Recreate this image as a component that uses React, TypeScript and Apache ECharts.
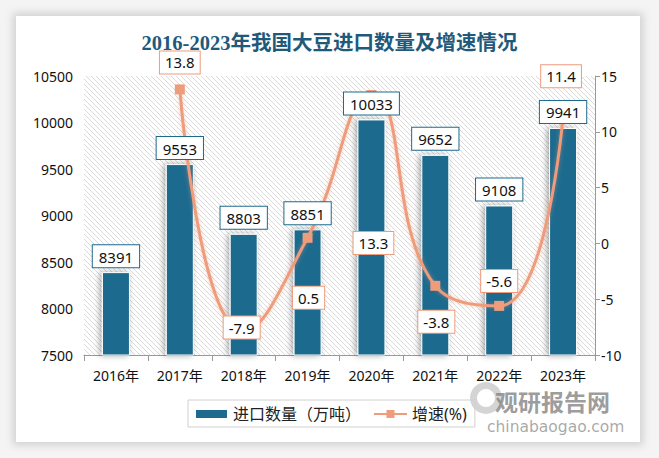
import React, { useEffect, useRef } from "react";
import * as echarts from "echarts";

const categories = ["2016年", "2017年", "2018年", "2019年", "2020年", "2021年", "2022年", "2023年"];
const importVolume = [8391, 9553, 8803, 8851, 10033, 9652, 9108, 9941];
const growthRate: (number | null)[] = [null, 13.8, -7.9, 0.5, 13.3, -3.8, -5.6, 11.4];
const leftTicks = { min: 7500, max: 10500, interval: 500 };
const rightTicks = { min: -10, max: 15, interval: 5 };

// label layout for the growth series (offset of label centre from point)
const growthLabelOffsets: [number, number][] = [
  [0, 0], [0, -27], [-2, -4], [1, 60], [2, 148], [1, 36], [0, -25], [-2, -40],
];

function makeHatch(): HTMLCanvasElement {
  const c = document.createElement("canvas");
  c.width = 5;
  c.height = 5;
  const ctx = c.getContext("2d")!;
  ctx.fillStyle = "#ffffff";
  ctx.fillRect(0, 0, 5, 5);
  ctx.strokeStyle = "#dadada";
  ctx.lineWidth = 1;
  ctx.beginPath();
  ctx.moveTo(0, 0);
  ctx.lineTo(5, 5);
  ctx.moveTo(-2.5, 2.5);
  ctx.lineTo(2.5, 7.5);
  ctx.moveTo(2.5, -2.5);
  ctx.lineTo(7.5, 2.5);
  ctx.stroke();
  return c;
}

export default function App() {
  const ref = useRef<HTMLDivElement>(null);
  useEffect(() => {
    if (!ref.current) return;
    const chart = echarts.init(ref.current, undefined, { renderer: "svg" });
    const blue = "#1d6a8e";
    const orange = "#ee9c7c";
    const axisFont = "'Noto Sans', 'Noto Sans CJK SC', sans-serif";
    const lineData = growthRate.map((v, i) => ({
      value: v,
      label: {
        show: v !== null,
        position: "inside",
        offset: growthLabelOffsets[i],
      },
    }));
    chart.setOption({
      animation: false,
      backgroundColor: "transparent",
      title: {
        text: "2016-2023年我国大豆进口数量及增速情况",
        left: "center",
        top: 28,
        textStyle: {
          color: "#1f5a7a",
          fontSize: 20.5,
          fontWeight: "bold",
          fontFamily: "'Liberation Serif', 'Noto Sans CJK SC', serif",
        },
      },
      grid: {
        left: 84,
        right: 64,
        top: 76,
        bottom: 103,
        show: true,
        borderWidth: 0,
        backgroundColor: { image: makeHatch(), repeat: "repeat" },
      },
      legend: {
        left: 188,
        top: 400,
        padding: [6, 8, 5, 6],
        borderColor: "#d0d0d0",
        borderWidth: 1,
        itemWidth: 33,
        itemHeight: 10,
        itemGap: 12,
        textStyle: { fontSize: 16, color: "#222", fontFamily: axisFont },
        data: [
          { name: "进口数量（万吨）", icon: "rect" },
          { name: "增速(%)" },
        ],
      },
      xAxis: {
        type: "category",
        data: categories,
        axisLine: { onZero: false, lineStyle: { color: "#999" } },
        axisTick: { show: true, length: 6, lineStyle: { color: "#999" } },
        axisLabel: { color: "#111", fontSize: 14, margin: 13, fontFamily: axisFont },
      },
      yAxis: [
        {
          type: "value",
          min: leftTicks.min,
          max: leftTicks.max,
          interval: leftTicks.interval,
          axisLine: { show: false },
          axisTick: { show: false },
          splitLine: { show: false },
          axisLabel: {
            color: "#111",
            fontSize: 14,
            margin: 11,
            fontFamily: axisFont,
            formatter: (v: number) => String(v),
          },
        },
        {
          type: "value",
          min: rightTicks.min,
          max: rightTicks.max,
          interval: rightTicks.interval,
          position: "right",
          axisLine: { show: true, onZero: false, lineStyle: { color: "#999" } },
          axisTick: { show: true, length: 5, lineStyle: { color: "#999" } },
          splitLine: { show: false },
          axisLabel: { color: "#111", fontSize: 14, margin: 6, fontFamily: axisFont },
        },
      ],
      series: [
        {
          name: "进口数量（万吨）",
          type: "bar",
          data: importVolume,
          barWidth: 28,
          barGap: "-100%",
          itemStyle: {
            color: blue,
            borderColor: "#ffffff",
            borderWidth: 1,
            shadowColor: "rgba(0,0,0,0.35)",
            shadowBlur: 6,
            shadowOffsetX: -2,
          },
          z: 2,
        },
        {
          name: "增速(%)",
          type: "line",
          yAxisIndex: 1,
          data: lineData,
          smooth: 0.5,
          connectNulls: false,
          symbol: "rect",
          symbolSize: 10,
          lineStyle: {
            color: orange,
            width: 3,
            shadowColor: "rgba(238,156,124,0.5)",
            shadowBlur: 4,
          },
          itemStyle: { color: orange },
          label: {
            color: "#111",
            fontSize: 15,
            fontFamily: axisFont,
            backgroundColor: "#ffffff",
            borderColor: orange,
            borderWidth: 1,
            padding: [4, 5, 3, 5],
          },
          z: 3,
        },
        {
          name: "barLabels",
          type: "bar",
          data: importVolume,
          barWidth: 28,
          barGap: "-100%",
          silent: true,
          itemStyle: { color: "transparent" },
          label: {
            show: true,
            position: "top",
            distance: 5,
            color: "#111",
            fontSize: 15,
            fontFamily: axisFont,
            backgroundColor: "#ffffff",
            borderColor: blue,
            borderWidth: 1,
            padding: [4, 6, 3, 6],
          },
          z: 5,
        },
      ],
      graphic: [
        {
          type: "ring",
          shape: { cx: 486, cy: 398, r: 16, r0: 9 },
          style: { fill: "rgba(170,170,170,0.5)" },
          z: 0,
        },
        {
          type: "text",
          left: 495,
          top: 389,
          style: {
            text: "观研报告网",
            fill: "rgba(130,130,130,0.8)",
            font: "bold 23px 'Noto Sans CJK SC', sans-serif",
            lineHeight: 23,
          },
          z: 0,
        },
        {
          type: "text",
          left: 487,
          top: 419,
          style: {
            text: "chinabaogao.com",
            fill: "rgba(140,140,140,0.75)",
            font: "15.5px 'DejaVu Sans', sans-serif",
            lineHeight: 15,
          },
          z: 0,
        },
      ],
    });
    return () => chart.dispose();
  }, []);
  return (
    <div style={{ position: "fixed", left: 0, top: 0, width: 659, height: 458, background: "#f4f4f4" }}>
      <div
        style={{
          position: "absolute",
          left: 16,
          top: 16,
          width: 624,
          height: 426,
          background: "#ffffff",
          boxShadow: "0 0 8px 3px rgba(0,0,0,0.15)",
        }}
      />
      <div ref={ref} style={{ position: "absolute", left: 0, top: 0, width: 659, height: 458 }} />
    </div>
  );
}
